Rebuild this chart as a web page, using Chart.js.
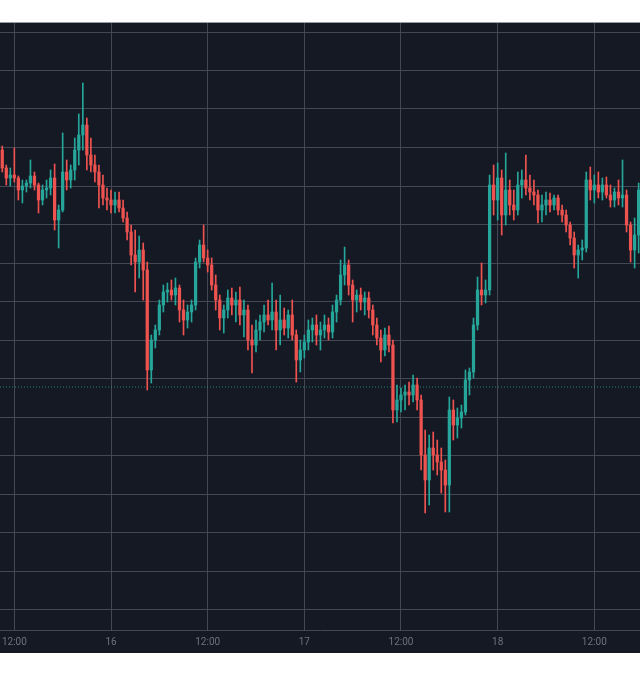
<!DOCTYPE html>
<html>
<head>
<meta charset="utf-8">
<script src="https://cdn.jsdelivr.net/npm/chart.js@4.4.1/dist/chart.umd.min.js"></script>
<style>
  html, body { margin: 0; padding: 0; background: #ffffff; }
  #wrap { position: absolute; left: 0; top: 22px; width: 640px; height: 631px; background: #151924; }
</style>
</head>
<body>
<div id="wrap"><canvas id="chart"></canvas></div>
<script>
// 30 minute candles, hours counted from the 15th at 00:00
const firstCandleHour = 10.5;
const candleHours = 0.5;

const opens = [
  460, 442, 432, 435, 432, 420, 424, 427, 434, 425,
  410, 420, 422, 432, 390, 400, 438, 430, 440, 460,
  475, 485, 455, 445, 438, 425, 412, 410, 405, 410,
  402, 392, 378, 355, 348, 360, 340, 240, 270, 280,
  305, 318, 320, 315, 322, 300, 290, 298, 305, 348,
  365, 352, 345, 325, 310, 292, 300, 312, 305, 310,
  295, 300, 270, 265, 280, 288, 295, 290, 298, 280,
  290, 282, 295, 275, 250, 260, 268, 280, 285, 275,
  280, 285, 278, 298, 310, 335, 345, 325, 310, 315,
  308, 312, 300, 285, 272, 260, 275, 265, 200, 210,
  215, 218, 215, 225, 210, 155, 130, 162, 155, 148,
  140, 125, 200, 185, 192, 198, 230, 238, 285, 320,
  315, 320, 425, 410, 432, 395, 420, 405, 400, 425,
  430, 422, 418, 415, 400, 405, 410, 405, 412, 400,
  395, 385, 372, 355, 360, 362, 430, 420, 425, 418,
  425, 415, 410, 418, 412, 415, 385, 360, 375
];
const highs = [
  464, 445, 442, 462, 434, 430, 430, 450, 438, 427,
  425, 430, 440, 446, 405, 477, 450, 445, 472, 496,
  527, 492, 472, 455, 445, 435, 422, 420, 418, 418,
  410, 398, 385, 380, 374, 367, 348, 275, 285, 310,
  325, 327, 330, 332, 325, 310, 305, 310, 352, 370,
  385, 360, 352, 335, 315, 305, 320, 322, 318, 323,
  310, 305, 285, 290, 295, 305, 310, 327, 310, 315,
  302, 300, 310, 280, 270, 275, 290, 292, 295, 288,
  295, 292, 305, 315, 350, 363, 350, 330, 320, 322,
  318, 318, 305, 292, 280, 282, 284, 270, 225, 222,
  225, 228, 235, 232, 215, 180, 175, 178, 170, 162,
  150, 213, 210, 202, 205, 240, 242, 292, 333, 347,
  330, 435, 445, 447, 440, 457, 430, 420, 438, 440,
  455, 435, 430, 420, 415, 418, 417, 415, 415, 405,
  400, 388, 378, 365, 370, 438, 443, 435, 438, 432,
  433, 425, 422, 430, 450, 420, 388, 392, 427
];
const lows = [
  438, 425, 424, 428, 410, 407, 418, 422, 420, 397,
  405, 412, 415, 380, 362, 398, 420, 422, 430, 445,
  460, 440, 438, 428, 402, 405, 400, 397, 397, 398,
  388, 370, 345, 318, 332, 310, 220, 227, 262, 275,
  298, 308, 310, 305, 288, 275, 282, 288, 300, 342,
  348, 338, 320, 300, 280, 277, 292, 295, 288, 285,
  273, 260, 237, 258, 270, 278, 285, 280, 260, 265,
  275, 272, 270, 228, 238, 252, 260, 268, 265, 260,
  272, 270, 272, 288, 305, 325, 315, 288, 298, 300,
  295, 292, 275, 265, 248, 254, 258, 187, 188, 198,
  200, 205, 208, 200, 140, 97, 105, 140, 135, 117,
  98, 98, 170, 172, 182, 195, 215, 232, 280, 305,
  307, 315, 395, 390, 375, 385, 395, 390, 395, 412,
  415, 410, 405, 387, 388, 395, 398, 400, 395, 388,
  378, 365, 342, 332, 350, 358, 410, 407, 412, 410,
  412, 403, 403, 405, 403, 378, 348, 342, 357
];
const closes = [
  442, 432, 435, 432, 420, 424, 427, 434, 425, 410,
  420, 422, 432, 390, 400, 438, 430, 440, 460, 475,
  485, 455, 445, 438, 425, 412, 410, 405, 410, 402,
  392, 378, 355, 348, 360, 340, 240, 270, 280, 305,
  318, 320, 315, 322, 300, 290, 298, 305, 348, 365,
  352, 345, 325, 310, 292, 300, 312, 305, 310, 295,
  300, 270, 265, 280, 288, 295, 290, 298, 280, 290,
  282, 295, 275, 250, 260, 268, 280, 285, 275, 280,
  285, 278, 298, 310, 335, 345, 325, 310, 315, 308,
  312, 300, 285, 272, 260, 275, 265, 200, 210, 215,
  218, 215, 225, 210, 155, 130, 162, 155, 148, 140,
  125, 200, 185, 192, 198, 230, 238, 285, 320, 315,
  320, 425, 410, 432, 395, 420, 405, 400, 425, 430,
  422, 418, 415, 400, 405, 410, 405, 412, 400, 395,
  385, 372, 355, 360, 362, 430, 420, 425, 418, 425,
  415, 410, 418, 412, 415, 385, 360, 375, 420
];

// time axis ticks (hours from the 15th 00:00)
const xTickHours = [12, 24, 36, 48, 60, 72, 84];
const xTickLabels = ["12:00", "16", "12:00", "17", "12:00", "18", "12:00"];
const xMin = 10.22;
const xMax = 89.67;

// price grid (the price scale itself is cut off in the picture)
const yGridValues = [0.5, 39, 77.5, 116, 154.5, 193, 231.5, 270, 308.5, 347, 385.5, 424, 462.5, 501, 539.5, 578];
const yMin = -20;
const yMax = 588;
const priceLine = 223;

const upColor = "#26a69a";
const downColor = "#ef5350";
const gridColor = "#444854";

const times = closes.map((_, i) => firstCandleHour + i * candleHours);
const candleColors = closes.map((c, i) => (c >= opens[i] ? upColor : downColor));

const ctx = document.getElementById("chart").getContext("2d");
new Chart(ctx, {
  type: "bar",
  data: {
    datasets: [
      {
        label: "body",
        data: times.map((t, i) => ({ x: t, y: [opens[i], closes[i]] })),
        backgroundColor: candleColors,
        barThickness: 2.6,
        minBarLength: 1,
        grouped: false,
        order: 1,
      },
      {
        label: "wick",
        data: times.map((t, i) => ({ x: t, y: [lows[i], highs[i]] })),
        backgroundColor: candleColors,
        barThickness: 1,
        grouped: false,
        order: 2,
      },
      {
        type: "line",
        label: "price",
        data: [{ x: xMin, y: priceLine }, { x: xMax, y: priceLine }],
        borderColor: "rgba(38,166,154,0.75)",
        borderWidth: 1,
        borderDash: [1, 2],
        pointRadius: 0,
        order: 3,
      },
    ],
  },
  options: {
    responsive: true,
    maintainAspectRatio: false,
    animation: false,
    layout: { padding: 0 },
    plugins: { legend: { display: false }, tooltip: { enabled: false } },
    scales: {
      x: {
        type: "linear",
        min: xMin,
        max: xMax,
        offset: false,
        afterBuildTicks: (axis) => { axis.ticks = xTickHours.map((v) => ({ value: v })); },
        afterFit: (axis) => {
          axis.height = 23;
          axis.paddingLeft = 0;
          axis.paddingRight = 0;
        },
        grid: { color: gridColor, offset: false, drawTicks: false },
        border: { display: true, color: gridColor },
        ticks: {
          autoSkip: false,
          maxRotation: 0,
          padding: 6,
          color: "#6f727d",
          font: { family: "Roboto", size: 10 },
          callback: (value) => {
            const i = xTickHours.indexOf(value);
            return i >= 0 ? xTickLabels[i] : "";
          },
        },
      },
      y: {
        type: "linear",
        min: yMin,
        max: yMax,
        afterBuildTicks: (axis) => { axis.ticks = yGridValues.concat([yMax]).map((v) => ({ value: v })); },
        afterFit: (axis) => {
          axis.width = 0;
          axis.paddingTop = 0;
          axis.paddingBottom = 0;
        },
        grid: {
          drawTicks: false,
          color: (c) => (c.tick && c.tick.value === yMax ? "#9a9ca6" : gridColor),
        },
        border: { display: false },
        ticks: { display: false },
      },
    },
  },
});
</script>
</body>
</html>
